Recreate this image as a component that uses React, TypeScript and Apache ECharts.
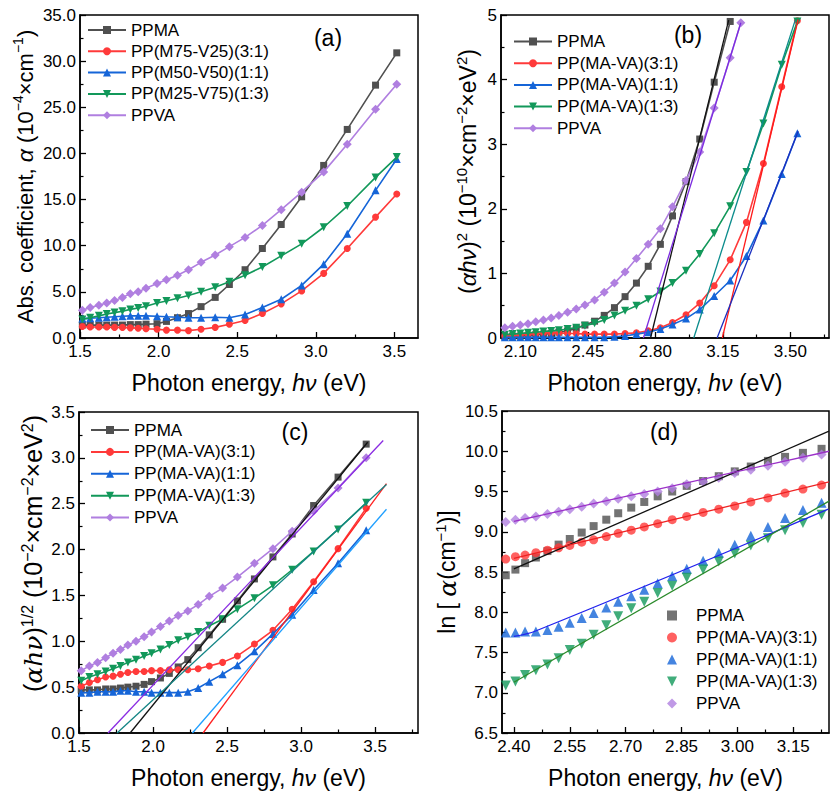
import React, { useEffect, useRef } from 'react';
import * as echarts from 'echarts';

const FONT = '"Liberation Sans", Arial, Helvetica, sans-serif';

// ---------- names ----------
const namesA = ['PPMA', 'PP(M75-V25)(3:1)', 'PP(M50-V50)(1:1)', 'PP(M25-V75)(1:3)', 'PPVA'];
const namesB = ['PPMA', 'PP(MA-VA)(3:1)', 'PP(MA-VA)(1:1)', 'PP(MA-VA)(1:3)', 'PPVA'];

// ---------- panel (a): absorption coefficient ----------
const xA = [1.515, 1.565, 1.62, 1.67, 1.72, 1.77, 1.82, 1.87, 1.92, 1.99, 2.05, 2.12, 2.19, 2.27, 2.36, 2.45, 2.55, 2.66, 2.78, 2.91, 3.05, 3.2, 3.38, 3.515];
const ppmaA = [1.4, 1.4, 1.4, 1.4, 1.4, 1.4, 1.45, 1.45, 1.5, 1.55, 1.8, 2.2, 2.65, 3.4, 4.4, 5.8, 7.4, 9.7, 12.3, 15.3, 18.7, 22.6, 27.4, 30.9];
const m31A = [1.25, 1.2, 1.2, 1.2, 1.15, 1.15, 1.1, 1.05, 1.0, 0.95, 0.85, 0.85, 0.8, 0.95, 1.15, 1.5, 1.9, 2.65, 3.7, 5.1, 7.0, 9.7, 13.1, 15.6];
const m11A = [2.1, 2.15, 2.2, 2.25, 2.3, 2.35, 2.4, 2.4, 2.4, 2.35, 2.3, 2.25, 2.2, 2.2, 2.25, 2.2, 2.55, 3.3, 4.2, 5.7, 8.0, 11.3, 16.0, 19.4];
const m13A = [2.0, 2.2, 2.4, 2.6, 2.75, 2.9, 3.1, 3.25, 3.45, 3.8, 4.0, 4.3, 4.6, 5.0, 5.5, 6.1, 6.8, 7.7, 8.9, 10.2, 12.0, 14.3, 17.4, 19.6];
const ppvaA = [3.0, 3.3, 3.55, 3.8, 4.05, 4.4, 4.8, 5.0, 5.4, 5.9, 6.3, 6.8, 7.4, 8.2, 9.0, 9.9, 10.9, 12.2, 13.9, 15.8, 18.0, 21.0, 24.8, 27.5];

// ---------- panel (b): (alpha h nu)^2 ----------
const xB = [2.02, 2.06, 2.10, 2.14, 2.18, 2.22, 2.26, 2.30, 2.345, 2.39, 2.435, 2.485, 2.535, 2.588, 2.643, 2.702, 2.763, 2.826, 2.889, 2.959, 3.03, 3.105, 3.188, 3.272, 3.36, 3.455, 3.536];
const ppmaB = [0.02, 0.03, 0.03, 0.04, 0.05, 0.06, 0.07, 0.09, 0.11, 0.15, 0.20, 0.26, 0.35, 0.47, 0.64, 0.85, 1.11, 1.45, 1.89, 2.42, 3.08, 3.96, 4.9, null, null, null, null];
const m31B = [0.03, 0.04, 0.05, 0.06, 0.07, 0.08, 0.08, 0.08, 0.07, 0.07, 0.06, 0.06, 0.06, 0.06, 0.07, 0.08, 0.11, 0.16, 0.24, 0.36, 0.54, 0.81, 1.21, 1.79, 2.70, 3.89, 4.91];
const m11B = [0.01, 0.01, 0.01, 0.01, 0.01, 0.01, 0.01, 0.01, 0.01, 0.01, 0.01, 0.01, 0.01, 0.02, 0.03, 0.06, 0.09, 0.14, 0.21, 0.30, 0.44, 0.65, 0.89, 1.27, 1.82, 2.54, 3.17];
const m13B = [0.05, 0.06, 0.07, 0.08, 0.09, 0.10, 0.11, 0.12, 0.14, 0.16, 0.19, 0.23, 0.28, 0.35, 0.42, 0.50, 0.60, 0.72, 0.85, 1.04, 1.30, 1.62, 2.04, 2.57, 3.32, 4.23, 4.90];
const ppvaB = [0.16, 0.18, 0.2, 0.22, 0.25, 0.28, 0.31, 0.35, 0.40, 0.45, 0.51, 0.59, 0.71, 0.85, 1.02, 1.23, 1.45, 1.69, 2.03, 2.44, 2.88, 3.56, 4.34, null, null, null, null];
const ppvaBTail = [3.243, 4.88];
const fitB_ppma = [[2.775, 0], [3.18, 4.92]];
const fitB_m31 = [[3.147, 0], [3.54, 4.93]];
const fitB_m11 = [[3.12, 0], [3.54, 3.2]];
const fitB_m13 = [[2.999, 0], [3.525, 4.92]];
const fitB_ppva = [[2.738, 0], [3.243, 4.88]];

// ---------- panel (c): (alpha h nu)^1/2 ----------
const xC = [1.515, 1.57, 1.625, 1.68, 1.73, 1.78, 1.83, 1.885, 1.94, 1.99, 2.05, 2.11, 2.17, 2.235, 2.305, 2.38, 2.47, 2.57, 2.685, 2.81, 2.94, 3.085, 3.25, 3.44];
const ppmaC = [0.47, 0.47, 0.47, 0.48, 0.48, 0.49, 0.5, 0.51, 0.53, 0.56, 0.6, 0.65, 0.72, 0.8, 0.93, 1.07, 1.24, 1.44, 1.68, 1.92, 2.17, 2.48, 2.79, 3.15];
const m31C = [0.51, 0.55, 0.58, 0.61, 0.62, 0.64, 0.66, 0.67, 0.67, 0.68, 0.68, 0.69, 0.69, 0.69, 0.70, 0.73, 0.77, 0.84, 0.97, 1.12, 1.35, 1.65, 2.01, 2.45];
const m11C = [0.44, 0.44, 0.45, 0.45, 0.45, 0.46, 0.46, 0.45, 0.45, 0.44, 0.44, 0.44, 0.44, 0.45, 0.49, 0.56, 0.64, 0.74, 0.89, 1.08, 1.29, 1.56, 1.85, 2.21];
const m13C = [0.57, 0.61, 0.64, 0.67, 0.70, 0.73, 0.77, 0.80, 0.84, 0.87, 0.91, 0.96, 1.01, 1.05, 1.10, 1.17, 1.24, 1.35, 1.47, 1.61, 1.78, 1.98, 2.22, 2.51];
const ppvaC = [0.68, 0.73, 0.77, 0.82, 0.87, 0.91, 0.96, 1.00, 1.05, 1.10, 1.16, 1.22, 1.28, 1.33, 1.40, 1.49, 1.58, 1.70, 1.85, 2.01, 2.20, 2.42, 2.67, 3.00];
const fitC_ppma = [[1.845, 0], [3.45, 3.17]];
const fitC_m31 = [[2.338, 0], [3.577, 2.72]];
const fitC_m11 = [[2.266, 0], [3.577, 2.44]];
const fitC_m13 = [[1.757, 0], [3.577, 2.71]];
const fitC_ppva = [[1.696, 0], [3.555, 3.19]];

// ---------- panel (d): ln(alpha) ----------
const xD = [2.378, 2.404, 2.43, 2.459, 2.49, 2.52, 2.55, 2.582, 2.614, 2.648, 2.68, 2.715, 2.75, 2.786, 2.825, 2.864, 2.908, 2.95, 2.993, 3.036, 3.082, 3.128, 3.176, 3.226];
const ppmaD = [8.46, 8.53, 8.61, 8.68, 8.76, 8.84, 8.91, 8.99, 9.07, 9.15, 9.23, 9.3, 9.37, 9.44, 9.5, 9.57, 9.63, 9.69, 9.75, 9.81, 9.88, 9.93, 9.98, 10.03];
const m31D = [8.66, 8.69, 8.71, 8.74, 8.77, 8.80, 8.83, 8.87, 8.90, 8.94, 8.98, 9.02, 9.06, 9.10, 9.15, 9.19, 9.24, 9.28, 9.32, 9.37, 9.42, 9.48, 9.53, 9.58];
const m11D = [7.75, 7.75, 7.76, 7.76, 7.78, 7.82, 7.87, 7.93, 7.99, 8.06, 8.13, 8.2, 8.28, 8.36, 8.45, 8.54, 8.64, 8.74, 8.84, 8.95, 9.06, 9.17, 9.27, 9.36];
const m13D = [7.09, 7.14, 7.22, 7.28, 7.35, 7.43, 7.53, 7.61, 7.72, 7.84, 7.95, 8.05, 8.13, 8.24, 8.33, 8.43, 8.53, 8.63, 8.73, 8.83, 8.92, 9.02, 9.11, 9.21];
const ppvaD = [9.12, 9.15, 9.17, 9.19, 9.22, 9.25, 9.28, 9.31, 9.35, 9.38, 9.41, 9.44, 9.47, 9.5, 9.54, 9.59, 9.62, 9.67, 9.73, 9.77, 9.82, 9.87, 9.92, 9.96];
const fitD_ppma = [[2.40, 8.54], [3.246, 10.25]];
const fitD_m31 = [[2.40, 8.67], [3.246, 9.62]];
const fitD_m11 = [[2.40, 7.70], [2.46, 7.77], [3.244, 9.28]];
const fitD_m13 = [[2.40, 7.13], [3.246, 9.38]];
const fitD_ppva = [[2.40, 9.13], [3.246, 10.0]];

// ---------- tick values ----------
const xTicksA = [1.5, 2.0, 2.5, 3.0, 3.5];
const xMinorA = [1.75, 2.25, 2.75, 3.25];
const yTicksA = [0, 5, 10, 15, 20, 25, 30, 35];
const yMinorA = [2.5, 7.5, 12.5, 17.5, 22.5, 27.5, 32.5];
const xTicksB = [2.10, 2.45, 2.80, 3.15, 3.50];
const xMinorB = [2.275, 2.625, 2.975, 3.325, 3.675];
const yTicksB = [0, 1, 2, 3, 4, 5];
const yMinorB = [0.5, 1.5, 2.5, 3.5, 4.5];
const xTicksC = [1.5, 2.0, 2.5, 3.0, 3.5];
const xMinorC = [1.75, 2.25, 2.75, 3.25, 3.75];
const yTicksC = [0, 0.5, 1.0, 1.5, 2.0, 2.5, 3.0, 3.5];
const yMinorC = [0.25, 0.75, 1.25, 1.75, 2.25, 2.75, 3.25];
const xTicksD = [2.40, 2.55, 2.70, 2.85, 3.00, 3.15];
const xMinorD = [2.475, 2.625, 2.775, 2.925, 3.075, 3.225];
const yTicksD = [6.5, 7.0, 7.5, 8.0, 8.5, 9.0, 9.5, 10.0, 10.5];
const yMinorD = [6.75, 7.25, 7.75, 8.25, 8.75, 9.25, 9.75, 10.25];

// ---------- styles ----------
const colors = ['#505050', '#ff3a3a', '#1565d8', '#12985a', '#b07fe0'];
const symbols = ['rect', 'circle', 'triangle', 'triangle', 'diamond'];
const rotations = [0, 0, 0, 180, 0];
const sizesLine = [7, 7, 8, 8, 9];
const sizesScatter = [8, 9, 10, 10, 10];
const fitColorsB = ['#111111', '#ff1a1a', '#1a2fbf', '#0b8c8c', '#7b2be0'];
const fitColorsC = ['#111111', '#ff2020', '#1f9fff', '#138585', '#8a2be2'];
const fitColorsD = ['#111111', '#ee2222', '#2222ee', '#2a8a2a', '#9b30c8'];
const INV_TRIANGLE = 'path://M0,0L10,0L5,10Z';

const nameRich = (size: number, gSize: number, gFamily: string) => ({
  fontSize: size,
  fontFamily: FONT,
  color: '#000',
  lineHeight: 28,
  rich: {
    i: { fontStyle: 'italic', fontSize: size, fontFamily: FONT, lineHeight: 28 },
    g: { fontStyle: 'italic', fontSize: gSize, fontFamily: gFamily, lineHeight: 28 },
    sup: { fontSize: Math.round(size * 0.64), fontFamily: FONT, lineHeight: 14, verticalAlign: 'top' },
  },
});

function axisPair(dim: 'x' | 'y', gi: number, min: number, max: number, majors: number[], minors: number[], dec: number,
  name: string, nameGap: number, nameStyle: any) {
  const major: any = {
    type: 'value', gridIndex: gi, min, max,
    position: dim === 'x' ? 'bottom' : 'left',
    axisLine: { show: true, onZero: false, lineStyle: { color: '#000', width: 1.5 } },
    axisTick: { show: true, inside: true, length: 6, customValues: majors, lineStyle: { color: '#000', width: 1.3 } },
    minorTick: { show: false },
    axisLabel: {
      show: true, customValues: majors, margin: dim === 'x' ? 5 : 4, fontSize: 17, color: '#000', fontFamily: FONT,
      formatter: (v: number) => Number(v).toFixed(dec),
    },
    splitLine: { show: false },
    name, nameLocation: 'middle', nameGap, nameRotate: dim === 'y' ? 90 : 0,
    nameTextStyle: nameStyle,
  };
  const minor: any = {
    type: 'value', gridIndex: gi, min, max,
    position: dim === 'x' ? 'bottom' : 'left',
    axisLine: { show: false, onZero: false },
    axisTick: { show: true, inside: true, length: 3.5, customValues: minors, lineStyle: { color: '#000', width: 1.2 } },
    axisLabel: { show: false },
    splitLine: { show: false },
  };
  return [major, minor];
}

const pairs = (xs: number[], ys: (number | null)[]) =>
  xs.map((x, i) => [x, ys[i]]).filter((p) => p[1] !== null && p[1] !== undefined);

function buildOption() {
  const xName = 'Photon energy, {i|hν} (eV)';
  const xStyle = nameRich(23, 23, FONT);

  const xAxis = [
    ...axisPair('x', 0, 1.5, 3.65, xTicksA, xMinorA, 1, xName, 31, xStyle),
    ...axisPair('x', 1, 2.0, 3.7, xTicksB, xMinorB, 2, xName, 31, xStyle),
    ...axisPair('x', 2, 1.5, 3.79, xTicksC, xMinorC, 1, xName, 31, xStyle),
    ...axisPair('x', 3, 2.368, 3.246, xTicksD, xMinorD, 2, xName, 31, xStyle),
  ];
  const yAxis = [
    ...axisPair('y', 0, 0, 35, yTicksA, yMinorA, 1,
      'Abs. coefficient, {g|α} (10{sup|−4}×cm{sup|−1})', 38, nameRich(22, 23, FONT)),
    ...axisPair('y', 1, 0, 5, yTicksB, yMinorB, 0,
      '({i|αhν}){sup|2} (10{sup|−10}×cm{sup|−2}×eV{sup|2})', 19, { ...nameRich(23, 23, FONT), padding: [0, 0, 0, 10] }),
    ...axisPair('y', 2, 0, 3.5, yTicksC, yMinorC, 1,
      '({g|αhν}){sup|1/2} (10{sup|−2}×cm{sup|−2}×eV{sup|2})', 32, { ...nameRich(25, 25, '"DejaVu Serif", serif'), padding: [0, 0, 0, 38] }),
    ...axisPair('y', 3, 6.5, 10.5, yTicksD, yMinorD, 1,
      'ln [ {g|α}(cm{sup|−1})]', 39, nameRich(23, 25, '"DejaVu Serif", serif')),
  ];

  const grid = [
    { left: 80, top: 15, width: 338, height: 323 },
    { left: 501, top: 15, width: 328, height: 323 },
    { left: 79, top: 412, width: 339, height: 321 },
    { left: 502, top: 411, width: 327, height: 322 },
  ].map((g) => ({ ...g, show: true, borderColor: '#000', borderWidth: 1.5, containLabel: false, outerBoundsMode: 'none' }));

  const series: any[] = [];
  const lineSet = (prefix: string, names: string[], gi: number, data: any[][]) => {
    data.forEach((d, k) => {
      series.push({
        type: 'line', name: prefix + names[k], xAxisIndex: gi * 2, yAxisIndex: gi * 2,
        data: d, symbol: symbols[k], symbolSize: sizesLine[k], symbolRotate: rotations[k],
        showSymbol: true, lineStyle: { color: colors[k], width: 1.6 }, itemStyle: { color: colors[k] },
        z: 2 + k, clip: true,
      });
    });
  };
  const fitSet = (gi: number, fits: number[][][], cols: string[]) => {
    fits.forEach((f, k) => {
      series.push({
        type: 'line', name: 'fit' + gi + '-' + k, xAxisIndex: gi * 2, yAxisIndex: gi * 2,
        data: f, showSymbol: false, symbol: 'none', smooth: gi === 3 && k === 2 ? 0.4 : false,
        lineStyle: { color: cols[k], width: 1.3 }, z: 10, silent: true, clip: true,
      });
    });
  };

  lineSet('a|', namesA, 0, [pairs(xA, ppmaA), pairs(xA, m31A), pairs(xA, m11A), pairs(xA, m13A), pairs(xA, ppvaA)]);

  lineSet('b|', namesB, 1, [pairs(xB, ppmaB), pairs(xB, m31B), pairs(xB, m11B), pairs(xB, m13B), [...pairs(xB, ppvaB), ppvaBTail]]);
  fitSet(1, [fitB_ppma, fitB_m31, fitB_m11, fitB_m13, fitB_ppva], fitColorsB);

  lineSet('c|', namesB, 2, [pairs(xC, ppmaC), pairs(xC, m31C), pairs(xC, m11C), pairs(xC, m13C), pairs(xC, ppvaC)]);
  fitSet(2, [fitC_ppma, fitC_m31, fitC_m11, fitC_m13, fitC_ppva], fitColorsC);

  [ppmaD, m31D, m11D, m13D, ppvaD].forEach((ys, k) => {
    series.push({
      type: 'scatter', name: 'd|' + namesB[k], xAxisIndex: 6, yAxisIndex: 6,
      data: pairs(xD, ys), symbol: symbols[k], symbolSize: sizesScatter[k], symbolRotate: rotations[k],
      itemStyle: { color: colors[k] }, z: 2 + k, clip: true,
    });
  });
  fitSet(3, [fitD_ppma, fitD_m31, fitD_m11, fitD_m13, fitD_ppva], fitColorsD);

  const legend = (prefix: string, names: string[], left: number, top: number, gap: number, iw = 38, ih = 10, textPad = 0, scatter = false) => ({
    orient: 'vertical', left, top, padding: 0, itemGap: gap, itemWidth: iw, itemHeight: ih,
    selectedMode: false,
    data: names.map((n, k) => (scatter && rotations[k] === 180 ? { name: prefix + n, icon: INV_TRIANGLE } : prefix + n)),
    formatter: (n: string) => n.slice(prefix.length),
    textStyle: { fontSize: 17, fontFamily: FONT, color: '#000', lineHeight: 17, padding: [0, 0, 0, textPad] },
  });

  const label = (text: string, x: number, y: number) => ({
    type: 'text', x, y, z: 100,
    style: { text, fontSize: 23, fontFamily: FONT, fill: '#000', align: 'center', verticalAlign: 'middle', textAlign: 'center', textVerticalAlign: 'middle' },
  });

  return {
    animation: false,
    backgroundColor: '#fff',
    textStyle: { fontFamily: FONT },
    grid,
    xAxis,
    yAxis,
    legend: [
      legend('a|', namesA, 87, 21.5, 4.3),
      legend('b|', namesB, 513, 33, 4.7),
      legend('c|', namesB, 90, 421.5, 4.9),
      legend('d|', namesB, 667, 607, 5, 10, 10, 14, true),
    ],
    graphic: [label('(a)', 328, 38), label('(b)', 688, 35), label('(c)', 295, 432), label('(d)', 664, 432)],
    series,
  };
}

export default function App() {
  const ref = useRef<HTMLDivElement>(null);
  useEffect(() => {
    if (!ref.current) return;
    const chart = echarts.init(ref.current, null, { renderer: 'svg' });
    chart.setOption(buildOption() as any);
    return () => chart.dispose();
  }, []);
  return <div ref={ref} style={{ position: 'fixed', left: 0, top: 0, width: 831, height: 797, background: '#fff' }} />;
}
